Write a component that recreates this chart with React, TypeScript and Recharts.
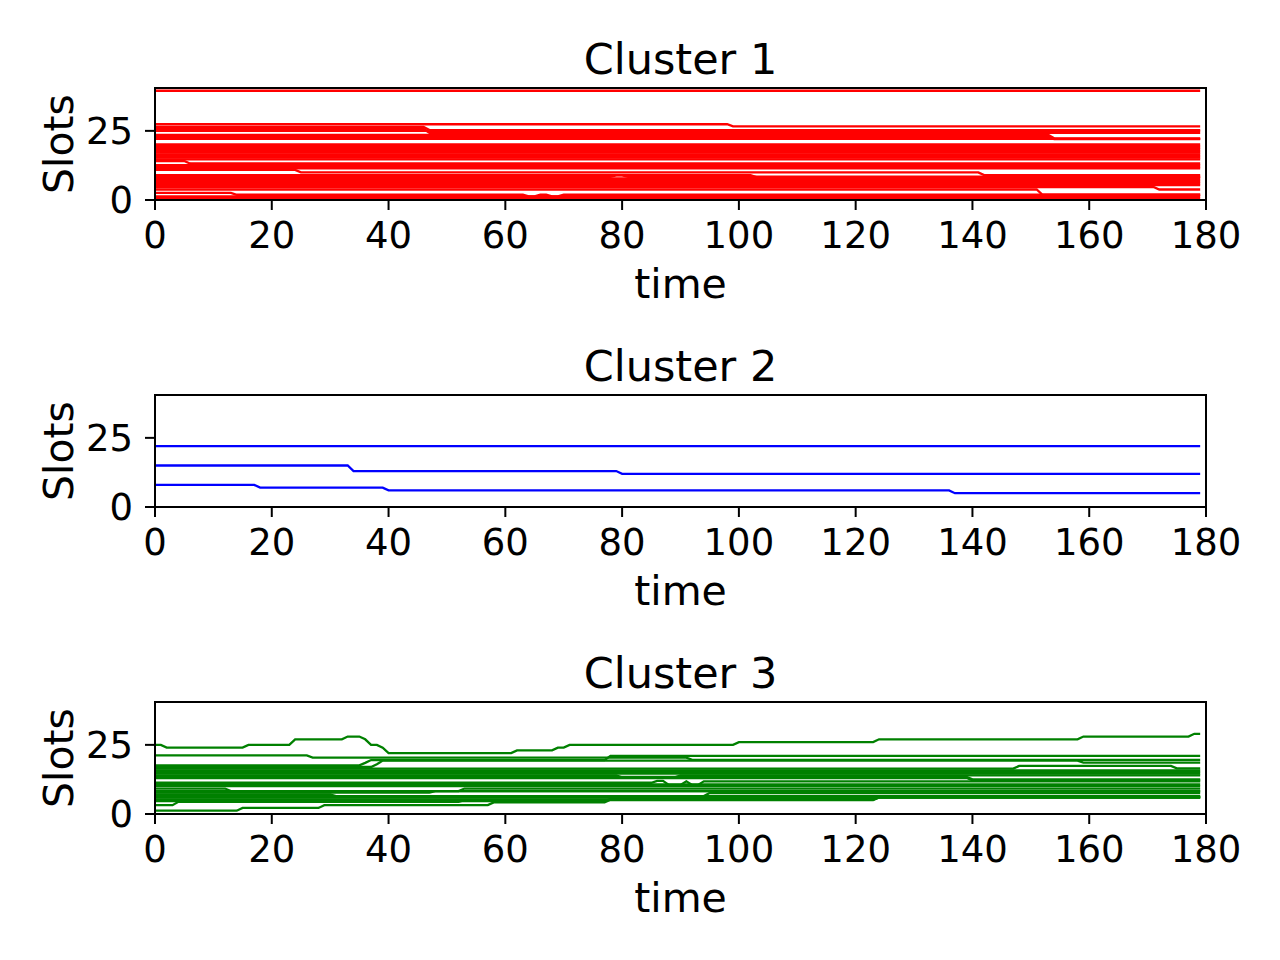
import { LineChart, Line, XAxis, YAxis, ReferenceArea } from 'recharts';

// [time, slot] change points: the value holds from that time on
type Step = [number, number];

const CLUSTERS = ['Cluster 1', 'Cluster 2', 'Cluster 3'];
const COLORS = ['#ff0000', '#0000ff', '#008000'];
const X_TICKS = [0, 20, 40, 60, 80, 100, 120, 140, 160, 180];
const Y_TICKS = [0, 25];
const LAST_T = 179;

const cluster1Slots: Step[][] = [
  [[0, 39.5]],
  [[0, 27.4], [98, 26.6]],
  [[0, 26.4], [46, 25.3]],
  [[0, 25.7], [46, 24.3]],
  [[0, 25.0]],
  [[0, 23.5], [153, 22.3]],
  [[0, 22.8], [153, 22.0]],
  [[0, 22.1]],
  [[0, 20.1]],
  [[0, 19.5]],
  [[0, 18.9]],
  [[0, 18.3]],
  [[0, 17.7]],
  [[0, 17.1]],
  [[0, 16.5]],
  [[0, 15.9]],
  [[0, 15.3]],
  [[0, 14.7]],
  [[0, 14.1], [5, 13.2]],
  [[0, 12.6]],
  [[0, 12.0]],
  [[0, 11.4]],
  [[0, 10.9], [24, 10.0], [141, 9.0]],
  [[0, 9.0], [102, 8.3]],
  [[0, 8.4], [78, 8.9], [80, 8.4]],
  [[0, 7.8]],
  [[0, 7.2]],
  [[0, 6.6]],
  [[0, 6.0]],
  [[0, 5.4]],
  [[0, 4.7], [171, 3.8]],
  [[0, 3.8], [151, 1.9]],
  [[0, 2.6], [13, 1.9], [63, 1.3], [65, 1.9], [67, 1.3], [69, 1.9]],
  [[0, 1.3]],
  [[0, 0.7]],
];

const cluster2Slots: Step[][] = [
  [[0, 22]],
  [[0, 15], [33, 13], [79, 12]],
  [[0, 8], [17, 7], [39, 6], [136, 5]],
];

const cluster3Slots: Step[][] = [
  [[0, 25], [1, 24], [15, 25], [23, 27], [32, 28], [35, 27], [36, 25], [38, 24], [39, 22],
    [61, 23], [68, 24], [70, 25], [99, 26], [123, 27], [158, 28], [177, 29]],
  [[0, 21.2], [26, 20.4], [91, 19.6]],
  [[0, 17.6], [35, 18.5], [36, 19.5], [77, 21]],
  [[0, 17.0], [37, 18.0], [38, 19.3], [158, 18.6]],
  [[0, 16.4], [147, 17.4], [174, 16.5]],
  [[0, 15.8]],
  [[0, 15.2]],
  [[0, 14.6]],
  [[0, 14.0], [79, 13.3], [89, 14.0]],
  [[0, 13.4], [139, 12.5]],
  [[0, 13.0], [139, 12.2]],
  [[0, 11.3], [85, 12.0], [87, 10.5], [90, 11.8], [91, 10.5], [93, 11.8]],
  [[0, 10.7]],
  [[0, 10.1]],
  [[0, 9.2], [12, 8.3], [52, 9.2]],
  [[0, 8.3]],
  [[0, 7.7], [47, 8.3]],
  [[0, 7.1], [30, 6.5], [94, 7.6]],
  [[0, 6.5]],
  [[0, 5.9]],
  [[0, 5.3], [123, 5.9]],
  [[0, 4.7], [77, 5.5], [123, 6.2]],
  [[0, 3.2], [3, 4.4], [52, 5.0], [123, 6.0]],
  [[0, 1.2], [14, 2.2], [28, 3.2], [57, 4.2], [77, 5.2], [123, 6.2]],
];

const SLOTS = [cluster1Slots, cluster2Slots, cluster3Slots];

const FONT = 'DejaVu Sans, sans-serif';
const PANEL_H = 307;

// each change is drawn over one time step, like the sampled original
function toPoints(steps: Step[]) {
  const pts = [{ t: steps[0][0], v: steps[0][1] }];
  for (let i = 1; i < steps.length; i++) {
    const [t, v] = steps[i];
    pts.push({ t, v: steps[i - 1][1] });
    pts.push({ t: t + 1, v });
  }
  pts.push({ t: LAST_T, v: steps[steps.length - 1][1] });
  return pts;
}

function ClusterPanel({ title, slots, color, top }: { title: string; slots: Step[][]; color: string; top: number }) {
  const tickStyle = { fill: '#000', fontSize: 37, fontFamily: FONT };
  return (
    <div style={{ position: 'absolute', left: 0, top, width: 1280, height: PANEL_H }}>
      <LineChart width={1280} height={PANEL_H} margin={{ top: 88, right: 74, bottom: 47, left: 95 }}>
        <XAxis
          type="number"
          dataKey="t"
          domain={[0, 180]}
          ticks={X_TICKS}
          allowDataOverflow
          height={60}
          tickSize={10}
          tickMargin={12}
          tick={tickStyle}
          axisLine={{ stroke: '#000', strokeWidth: 2 }}
          tickLine={{ stroke: '#000', strokeWidth: 2 }}
        />
        <YAxis
          type="number"
          domain={[0, 40.5]}
          ticks={Y_TICKS}
          allowDataOverflow
          width={60}
          tickSize={10}
          tickMargin={12}
          tick={tickStyle}
          axisLine={{ stroke: '#000', strokeWidth: 2 }}
          tickLine={{ stroke: '#000', strokeWidth: 2 }}
        />
        <ReferenceArea x1={0} x2={180} y1={0} y2={40.5} fill="none" stroke="#000" strokeWidth={2} ifOverflow="visible" />
        {slots.map((steps, i) => (
          <Line
            key={i}
            data={toPoints(steps)}
            dataKey="v"
            type="linear"
            stroke={color}
            strokeWidth={2.3}
            dot={false}
            activeDot={false}
            isAnimationActive={false}
          />
        ))}
      </LineChart>
      <svg width={1280} height={PANEL_H} style={{ position: 'absolute', left: 0, top: 0, pointerEvents: 'none' }}>
        <text x={680.5} y={74} textAnchor="middle" fontSize={43} fontFamily={FONT} fill="#000">{title}</text>
        <text x={680.5} y={298} textAnchor="middle" fontSize={41} fontFamily={FONT} fill="#000">time</text>
        <text transform="translate(73,144) rotate(-90)" textAnchor="middle" fontSize={41} fontFamily={FONT} fill="#000">Slots</text>
      </svg>
    </div>
  );
}

export default function App() {
  return (
    <div style={{ position: 'absolute', left: 0, top: 0, width: 1280, height: 960, background: '#fff' }}>
      {CLUSTERS.map((name, i) => (
        <ClusterPanel key={name} title={name} slots={SLOTS[i]} color={COLORS[i]} top={i * PANEL_H} />
      ))}
    </div>
  );
}
